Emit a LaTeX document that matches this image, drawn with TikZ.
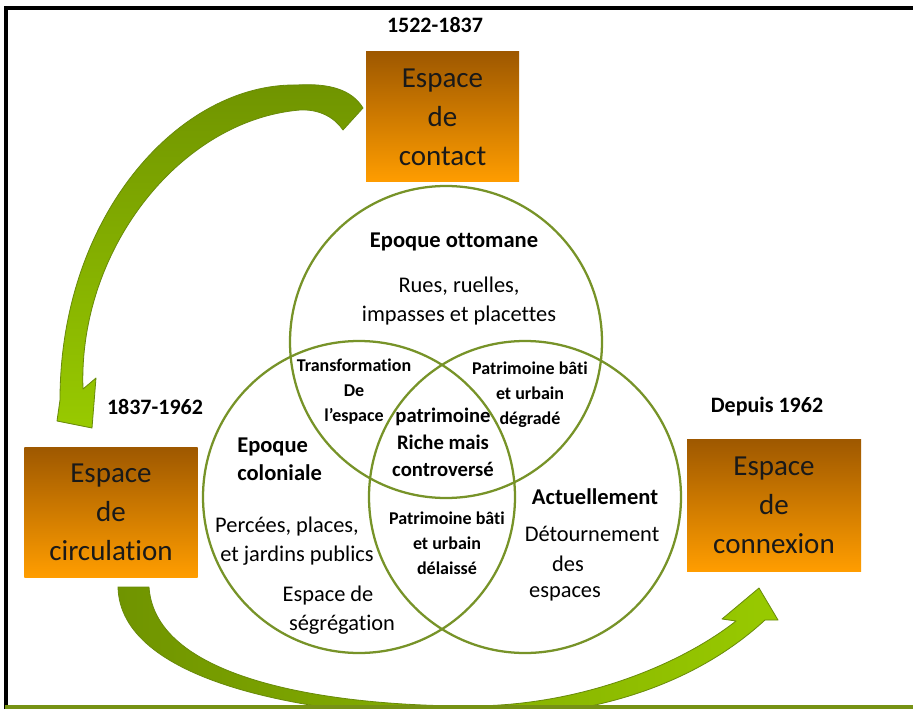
\documentclass[tikz,border=0pt]{standalone}
\usepackage{fontspec}
\setmainfont{Carlito}[Ligatures=NoCommon]
\definecolor{circ}{RGB}{119,147,40}
\definecolor{adark}{RGB}{112,148,0}
\definecolor{alight}{RGB}{152,202,0}
\definecolor{aedge}{RGB}{104,138,10}
\definecolor{btop}{RGB}{158,88,0}
\definecolor{bbot}{RGB}{255,157,0}
\definecolor{barc}{RGB}{118,146,20}
\tikzset{
  box/.style={rectangle, inner sep=0pt, top color=btop, bottom color=bbot, draw=none, align=center, text=black!90,
    font=\fontsize{21.75}{29.25}\selectfont},
  yr/.style={font=\bfseries\fontsize{16.5}{20}\selectfont, inner sep=0pt},
  epoq/.style={font=\bfseries\fontsize{16.9}{21}\selectfont, inner sep=0pt, align=left},
  body/.style={font=\fontsize{16.8}{21.75}\selectfont, inner sep=0pt, align=center},
  small/.style={font=\bfseries\fontsize{13.5}{18.75}\selectfont, inner sep=0pt, align=center},
  midtxt/.style={font=\bfseries\fontsize{15.5}{20.25}\selectfont, inner sep=0pt, align=center},
  ring/.style={draw=circ, line width=1.7pt},
  arrowbody/.style={draw=aedge, line width=0.6pt, line join=round}
}
\begin{document}
\begin{tikzpicture}[x=0.75pt,y=-0.75pt]
\useasboundingbox (0,0) rectangle (913,709);
\fill[white] (0,0) rectangle (913,709);
% frame
\draw[black, line width=2.4pt] (913,8) -- (6,8) -- (6,709);
% circles
\draw[ring] (446,342) circle[radius=117pt];
\draw[ring] (359,497) circle[radius=117pt];
\draw[ring] (525,497) circle[radius=117pt];
% boxes
\node[box, minimum width=114.75pt, minimum height=97.5pt] (contact) at (442.5,117) {Espace\\de\\contact};
\node[box, minimum width=130pt, minimum height=97.5pt] (circul) at (111,512) {Espace\\de\\circulation};
\node[box, minimum width=130.5pt, minimum height=99pt] (connex) at (774,505) {Espace\\de\\connexion};
% arrows
\begin{scope}
\clip (0,0) rectangle (913,709);
\path[arrowbody, top color=adark, bottom color=alight]
  (363,108) .. controls (352,90) and (330,83) .. (297,85)
  .. controls (180,83) and (60,215) .. (60,400)
  -- (57,421) -- (92,428) -- (96,378) -- (83,389)
  .. controls (78,250) and (180,120) .. (300,110)
  .. controls (320,109) and (335,118) .. (343,130)
  -- cycle;
\path[arrowbody, left color=adark, right color=alight]
  (118,587) .. controls (120,680) and (300,715) .. (460,718)
  .. controls (600,720) and (700,680) .. (765,620)
  -- (778,620) -- (759,588) -- (722,619) -- (736,621)
  .. controls (680,665) and (580,706) .. (470,706)
  .. controls (330,706) and (155,680) .. (149,587)
  -- cycle;
\end{scope}
% bottom bar
\fill[barc] (5,705) rectangle (913,709);
% years
\node[yr] (y1) at (435,25) {1522-1837};
\node[yr] (y2) at (155,407) {1837-1962};
\node[yr] (y3) at (767,407) {Depuis 1962};
% top circle
\node[epoq] (ott) at (454,242) {Epoque ottomane};
\node[body] (rues) at (459,301) {Rues, ruelles,\\impasses et placettes};
% intersections
\node[small] (transf) at (354,392) {Transformation\\De\\l’espace};
\node[small] (degr) at (530,395) {Patrimoine bâti\\et urbain\\dégradé};
\node[midtxt] (riche) at (443,442) {patrimoine\\Riche mais\\controversé};
\node[small] (delai) at (447,543) {Patrimoine bâti\\et urbain\\délaissé};
% left circle
\node[epoq, anchor=west] (colo) at (237,459) {Epoque\\coloniale};
\node[body] (perc) at (287,527) {Percées, places,};
\node[body] (jard) at (297,556) {et jardins publics};
\node[body] (esp) at (328,596) {Espace de};
\node[body] (segr) at (342,625) {ségrégation};
% right circle
\node[epoq] (actu) at (595,497) {Actuellement};
\node[body] (detour) at (592,534) {Détournement};
\node[body] (des) at (568,564) {des};
\node[body] (espc) at (565,594) {espaces};
\end{tikzpicture}
\end{document}
